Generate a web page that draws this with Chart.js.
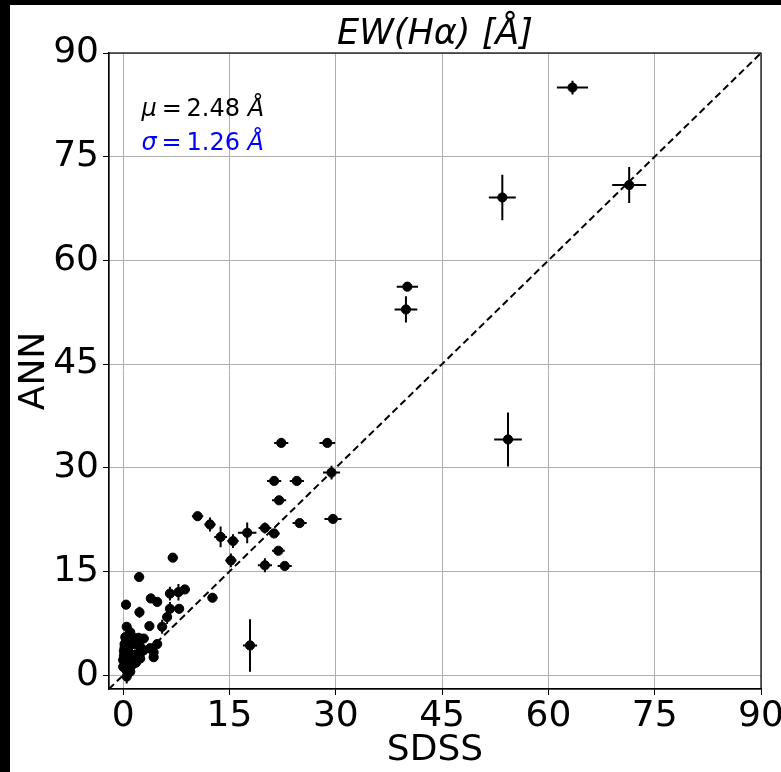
<!DOCTYPE html>
<html><head><meta charset="utf-8">
<style>
html,body{margin:0;padding:0;background:#000;width:781px;height:772px;overflow:hidden}
#wrap{position:absolute;left:10px;top:5px;width:771px;height:767px;background:#fff}
</style></head>
<body><div id="wrap"><canvas id="c" width="771" height="767"></canvas></div>
<script src="https://cdn.jsdelivr.net/npm/chart.js@4/dist/chart.umd.min.js"></script>
<script>
// SDSS (x) vs ANN (y) equivalent widths with errors
const sdss = [63.4,53.5,71.4,40.1,39.9,54.3,
  22.3,28.8,29.4,21.3,24.5,22.0,10.5,12.25,13.75,15.5,17.5,20.0,21.3,24.9,29.6,21.9,15.2,20.0,22.8,7.0,2.25,17.9,12.6,
  0.4,3.9,4.8,6.6,7.8,8.7,2.3,6.6,7.9,6.2,0.5,3.7,5.5,4.8,2.2,2.9,1.5,0.7,2.4,3.8,4.3,2.9,0.3,0.0,2.4,4.3,1.2,0.0,1.0,0.5,
  0.2,0.1,0.6,1.5,0.8,0.2,0.7,1.8,0.3,1.0,
  0.2,0.4,0.1,0.6,1.3,1.8,0.9,1.6,0.4,0.3,0.9,0.5];
const ann = [85.0,69.1,70.9,56.2,52.9,34.1,
  33.6,33.6,29.3,28.1,28.1,25.3,23.0,21.8,20.0,19.4,20.6,21.3,20.5,22.0,22.6,18.0,16.6,15.9,15.8,17.0,14.2,4.3,11.2,
  10.2,11.1,10.6,11.8,12.0,12.4,9.1,9.6,9.6,8.4,7.0,7.1,7.0,4.5,5.4,5.3,5.4,4.8,4.1,3.9,3.3,3.6,3.1,2.2,2.4,2.6,1.4,1.2,0.5,-0.2,
  4.0,3.5,2.8,2.5,3.3,1.8,1.0,3.0,5.5,6.2,
  4.5,5.2,2.8,2.0,2.2,1.8,4.2,4.5,0.8,1.6,2.6,3.8];
const sdssErr = [2.2,1.9,2.4,1.5,1.6,1.95,
  1.0,1.1,1.2,1.0,1.0,1.0,0.8,0.8,0.9,0.8,1.3,0.9,0.8,1.0,1.2,0.9,0.8,1.0,1.0,0.7,0.7,1.0,0.7,
  0.5,0.6,0.6,0.7,0.7,0.7,0.5,0.6,0.6,0.6,0.5,0.6,0.6,0.6,0.7,0.7,0.5,0.5,0.6,0.6,0.6,0.6,0.4,0.4,0.6,0.6,0.4,0.3,0.3,0.3,
  0.4,0.4,0.4,0.5,0.4,0.3,0.3,0.5,0.4,0.4,
  0.3,0.4,0.3,0.4,0.4,0.5,0.4,0.5,0.3,0.3,0.4,0.4];
const annErr = [1.0,3.3,2.6,0.3,1.9,3.9,
  0.3,0.3,1.0,0.3,0.5,0.3,0.3,1.0,1.5,1.0,1.5,0.8,0.5,0.3,0.3,0.3,1.0,1.0,0.3,0.3,0.3,3.8,0.3,
  0.3,0.3,0.3,1.0,1.2,0.3,0.8,1.0,0.3,1.0,0.3,0.3,1.0,0.3,0.5,0.5,0.5,0.5,0.5,0.4,0.3,0.3,0.4,0.4,0.3,0.6,0.5,0.5,0.8,1.0,
  0.4,0.4,0.5,0.4,0.4,0.5,0.5,0.4,0.4,0.4,
  0.4,0.4,0.4,0.5,0.4,0.4,0.4,0.4,0.6,0.5,0.4,0.4];
const tickVals = [0,15,30,45,60,75,90];
const oneToOne = [-2,90];
const statMu = '2.48';
const statSigma = '1.26';
const titleText = 'EW(Hα) [Å]';

const pts = sdss.map((v,i)=>({x:v,y:ann[i]}));
const linePts = oneToOne.map(v=>({x:v,y:v}));

const errPlugin = {
  id:'errbars',
  beforeDatasetsDraw(chart){
    const {ctx, scales:{x,y}} = chart;
    ctx.save();
    ctx.strokeStyle='#000'; ctx.lineWidth=2;
    ctx.beginPath();
    for(let i=0;i<sdss.length;i++){
      const px=x.getPixelForValue(sdss[i]), py=y.getPixelForValue(ann[i]);
      ctx.moveTo(x.getPixelForValue(sdss[i]-sdssErr[i]),py);
      ctx.lineTo(x.getPixelForValue(sdss[i]+sdssErr[i]),py);
      ctx.moveTo(px,y.getPixelForValue(ann[i]-annErr[i]));
      ctx.lineTo(px,y.getPixelForValue(ann[i]+annErr[i]));
    }
    ctx.stroke();
    ctx.restore();
  },
  afterDraw(chart){
    const {ctx, chartArea:a} = chart;
    ctx.save();
    ctx.strokeStyle='#000'; ctx.lineWidth=1.2;
    ctx.strokeRect(a.left,a.top,a.right-a.left,a.bottom-a.top);
    // title
    ctx.fillStyle='#000'; ctx.textAlign='center'; ctx.textBaseline='middle';
    ctx.font='italic 35px "DejaVu Sans"';
    ctx.fillText(titleText,(a.left+a.right)/2,30);
    // stats text
    const drawStat=(sym,val,color,yf)=>{
      let xx=a.left+0.05*(a.right-a.left);
      const yy=a.top+(1-yf)*(a.bottom-a.top);
      ctx.fillStyle=color; ctx.textBaseline='middle'; ctx.textAlign='left';
      const parts=[[sym,'italic'],['\u2009=\u2009'+val+' ','normal'],['Å','italic']];
      for(const [t,st] of parts){
        ctx.font=st+' 24px "DejaVu Sans"';
        ctx.fillText(t,xx,yy);
        xx+=ctx.measureText(t).width;
      }
    };
    drawStat('μ',statMu,'#000',0.911);
    drawStat('σ',statSigma,'#0000ff',0.858);
    ctx.restore();
  }
};

const tickFont={family:'DejaVu Sans',size:36};
new Chart(document.getElementById('c'),{
  type:'scatter',
  data:{datasets:[
    {type:'line',data:linePts,borderColor:'#000',borderWidth:2,borderDash:[7,4],pointRadius:0,fill:false,order:2},
    {data:pts,backgroundColor:'#000',borderColor:'#000',pointRadius:4.6,pointHoverRadius:4.6,order:1}
  ]},
  options:{
    responsive:false,animation:false,
    layout:{padding:{top:48,right:20,left:0,bottom:0}},
    plugins:{legend:{display:false},tooltip:{enabled:false},title:{display:false}},
    scales:{
      x:{type:'linear',min:-2,max:90,
        afterBuildTicks:s=>{s.ticks=tickVals.map(v=>({value:v}));},
        afterFit:s=>{s.height=83;s.paddingLeft=0;s.paddingRight=0;},
        grid:{color:'#b0b0b0',lineWidth:1,tickLength:6,tickColor:'#000'},
        border:{color:'#000',width:1.2},
        ticks:{color:'#000',font:tickFont,padding:0,maxRotation:0,autoSkip:false},
        title:{display:true,text:'SDSS',color:'#000',font:{family:'DejaVu Sans',size:36},padding:{top:0,bottom:0}}},
      y:{type:'linear',min:-2,max:90,
        afterBuildTicks:s=>{s.ticks=tickVals.map(v=>({value:v}));},
        afterFit:s=>{s.width=99;s.paddingTop=0;s.paddingBottom=0;},
        grid:{color:'#b0b0b0',lineWidth:1,tickLength:6,tickColor:'#000'},
        border:{color:'#000',width:1.2},
        ticks:{color:'#000',font:tickFont,padding:4,autoSkip:false},
        title:{display:true,text:'ANN',color:'#000',font:{family:'DejaVu Sans',size:36},padding:{top:3,bottom:0}}}
    }
  },
  plugins:[errPlugin]
});
</script></body></html>
